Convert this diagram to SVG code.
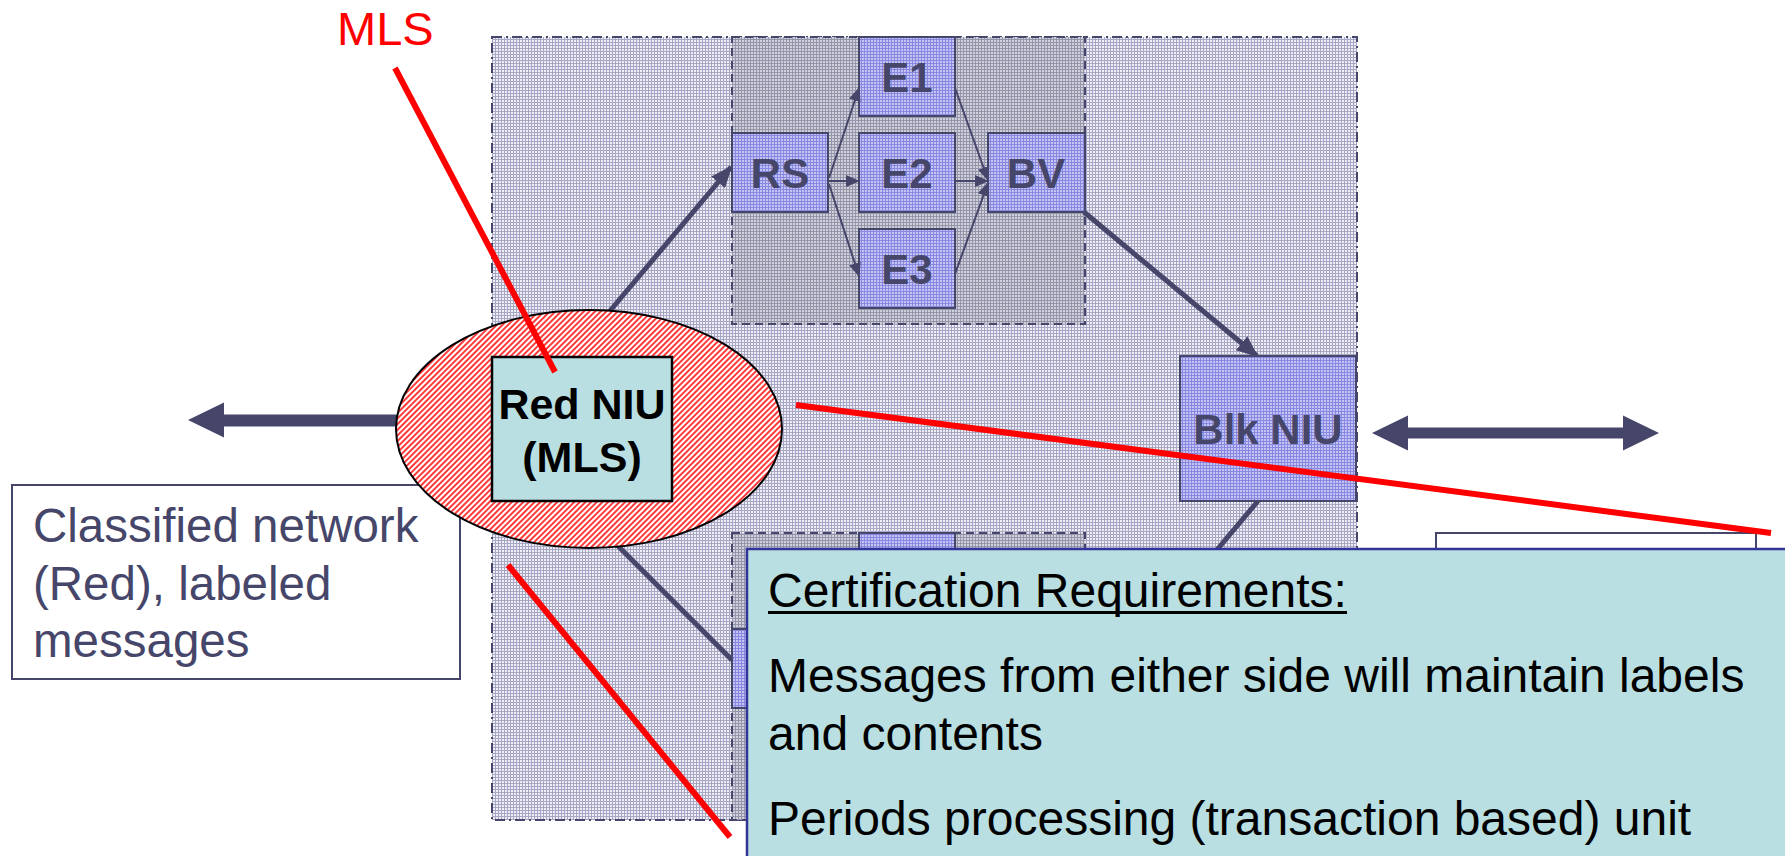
<svg xmlns="http://www.w3.org/2000/svg" width="1785" height="856" viewBox="0 0 1785 856">
<defs>
<pattern id="pOuter" width="3" height="3" patternUnits="userSpaceOnUse">
<rect width="3" height="3" fill="#eeeef4"/><rect width="1" height="3" fill="#a4a4c4"/><rect width="3" height="1" fill="#a8a8c6"/>
</pattern>
<pattern id="pInner" width="3" height="3" patternUnits="userSpaceOnUse">
<rect width="3" height="3" fill="#d0d0d8"/><rect width="1" height="3" fill="#9494ac"/><rect width="3" height="1" fill="#9494ac"/>
</pattern>
<pattern id="pBlue" width="3" height="3" patternUnits="userSpaceOnUse">
<rect width="3" height="3" fill="#c4c4f4"/><rect width="1" height="3" fill="#8888e0"/><rect width="3" height="1" fill="#8888e0"/>
</pattern>
<pattern id="pRed" width="4" height="4" patternUnits="userSpaceOnUse" patternTransform="rotate(45)">
<rect width="4" height="4" fill="#ffffff"/><rect width="2" height="4" fill="#ff3a3a"/>
</pattern>
<marker id="ah" markerUnits="userSpaceOnUse" markerWidth="22" markerHeight="18" refX="20" refY="9" orient="auto">
<path d="M0,0 L22,9 L0,18 z" fill="#46466a"/>
</marker>
<marker id="ahs" markerUnits="userSpaceOnUse" markerWidth="14" markerHeight="12" refX="13" refY="6" orient="auto">
<path d="M0,0 L14,6 L0,12 z" fill="#46466a"/>
</marker>
</defs>
<style>
.outer{fill:url(#pOuter);stroke:#46466a;stroke-width:2;stroke-dasharray:10 4 2 4}
.inner{fill:url(#pInner);stroke:#46466a;stroke-width:2;stroke-dasharray:8 5}
.blue{fill:url(#pBlue);stroke:#46466a;stroke-width:2}
.bt{font-family:"Liberation Sans",Arial,sans-serif;font-weight:bold;font-size:42px;fill:#46466a;text-anchor:middle}
.thick{stroke:#46466a;stroke-width:5;fill:none}
.thin{stroke:#46466a;stroke-width:2;fill:none}
.red{stroke:#ff0000;stroke-width:6;fill:none}
.txt{font-family:"Liberation Sans",Arial,sans-serif;font-size:47.5px;fill:#46466a}
.ct{font-family:"Liberation Sans",Arial,sans-serif;font-size:48px;fill:#000000}
</style>
<rect id="system" class="outer" x="492" y="37" width="865" height="783"/>
<g id="group-upper">
<rect class="inner" x="732" y="37" width="353" height="287"/>
</g>
<g id="group-lower">
<rect class="inner" x="732" y="533" width="353" height="287"/>
</g>
<g id="E1"><rect class="blue" x="859" y="37" width="96" height="79"/><text class="bt" x="907" y="92">E1</text></g>
<g id="RS"><rect class="blue" x="732" y="133" width="96" height="79"/><text class="bt" x="780" y="188">RS</text></g>
<g id="E2"><rect class="blue" x="859" y="133" width="96" height="79"/><text class="bt" x="907" y="188">E2</text></g>
<g id="BV"><rect class="blue" x="988" y="133" width="97" height="79"/><text class="bt" x="1036" y="188">BV</text></g>
<g id="E3"><rect class="blue" x="859" y="229" width="96" height="79"/><text class="bt" x="907" y="284">E3</text></g>
<g id="E1-lower"><rect class="blue" x="859" y="533" width="96" height="79"/></g>
<g id="RS-lower"><rect class="blue" x="732" y="629" width="96" height="79"/></g>
<g id="connectors">
<line class="thick" x1="609" y1="312" x2="731" y2="167" marker-end="url(#ah)"/>
<line class="thin" x1="829" y1="178" x2="859" y2="88" marker-end="url(#ahs)"/>
<line class="thin" x1="829" y1="181" x2="859" y2="181" marker-end="url(#ahs)"/>
<line class="thin" x1="829" y1="184" x2="859" y2="276" marker-end="url(#ahs)"/>
<line class="thin" x1="955" y1="88" x2="988" y2="180" marker-end="url(#ahs)"/>
<line class="thin" x1="955" y1="181" x2="988" y2="181" marker-end="url(#ahs)"/>
<line class="thin" x1="955" y1="274" x2="988" y2="183" marker-end="url(#ahs)"/>
<line class="thick" x1="1084" y1="212" x2="1257" y2="356" marker-end="url(#ah)"/>
<line class="thick" x1="612" y1="540" x2="732" y2="660"/>
<line class="thick" x1="1258" y1="501" x2="1200" y2="570"/>
<polygon points="188,420 224,402.5 224,414.5 400,414.5 400,426.5 224,426.5 224,437.5" fill="#46466a"/>
<polygon points="1372,433 1408,415.5 1408,427.5 1623,427.5 1623,415.5 1659,433 1623,450.5 1623,438.5 1408,438.5 1408,450.5" fill="#46466a"/>
</g>
<g id="classified">
<rect x="12" y="485" width="448" height="194" fill="#ffffff" stroke="#46466a" stroke-width="2"/>
<text class="txt" x="33" y="542">Classified network</text>
<text class="txt" x="33" y="600">(Red), labeled</text>
<text class="txt" x="33" y="657">messages</text>
</g>
<g id="mls-ellipse">
<ellipse cx="589" cy="429" rx="193" ry="119" fill="url(#pRed)" stroke="#000000" stroke-width="2"/>
</g>
<g id="RedNIU">
<rect x="492" y="357" width="180" height="144" fill="#b9dfe2" stroke="#000000" stroke-width="2.5"/>
<text class="bt" x="582" y="419" style="fill:#000000;font-size:43px">Red NIU</text>
<text class="bt" x="582" y="472" style="fill:#000000;font-size:43px">(MLS)</text>
</g>
<g id="BlkNIU">
<rect class="blue" x="1180" y="356" width="176" height="145"/>
<text class="bt" x="1268" y="444">Blk NIU</text>
</g>
<g id="rightbox">
<rect x="1436" y="533" width="320" height="60" fill="#ffffff" stroke="#46466a" stroke-width="2"/>
</g>
<g id="callouts">
<text x="337" y="45" font-family="Liberation Sans, Arial, sans-serif" font-size="47" fill="#ff0000">MLS</text>
<line class="red" x1="395" y1="68" x2="555" y2="372"/>
<line class="red" x1="796" y1="405" x2="1771" y2="533"/>
<line class="red" x1="508" y1="565" x2="730" y2="837"/>
</g>
<g id="certification">
<rect x="747" y="549" width="1060" height="330" fill="#b9dfe2" stroke="#333399" stroke-width="2.5"/>
<text class="ct" x="768" y="607">Certification Requirements:</text>
<rect x="768" y="611" width="579" height="3" fill="#000000"/>
<text class="ct" x="768" y="692">Messages from either side will maintain labels</text>
<text class="ct" x="768" y="750">and contents</text>
<text class="ct" x="768" y="835">Periods processing (transaction based) unit</text>
</g>
</svg>
